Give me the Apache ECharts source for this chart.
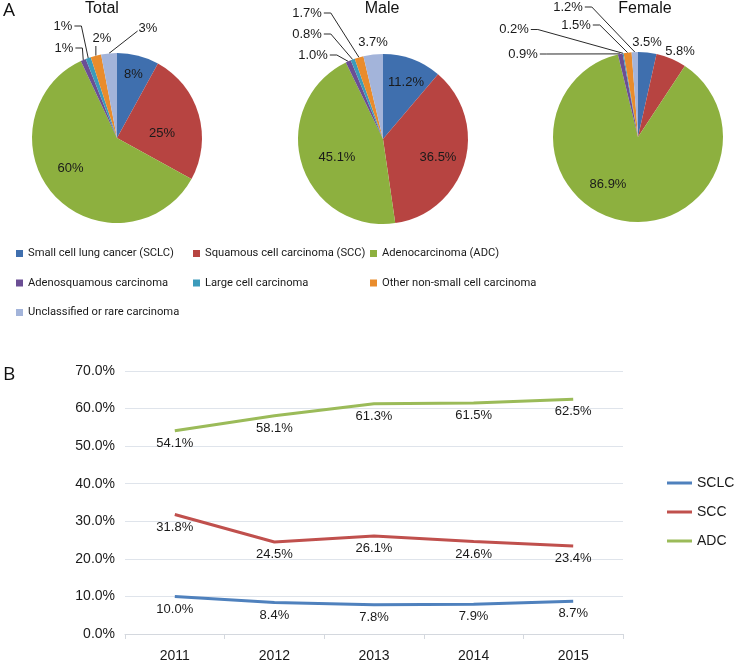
<!DOCTYPE html>
<html>
<head>
<meta charset="utf-8">
<script src="https://cdn.jsdelivr.net/npm/echarts@6/dist/echarts.min.js"></script>
<style>
html,body{margin:0;padding:0;background:#fff;}
#chart{width:748px;height:664px;}
</style>
</head>
<body>
<div id="chart"></div>
<script>
// ---------- DATA ----------
var pieCategories = [
  'Small cell lung cancer (SCLC)',
  'Squamous cell carcinoma (SCC)',
  'Adenocarcinoma (ADC)',
  'Adenosquamous carcinoma',
  'Large cell carcinoma',
  'Other non-small cell carcinoma',
  'Unclassified or rare carcinoma'
];
var pieTitles = ['Total', 'Male', 'Female'];
var totalValues  = [8, 25, 60, 1, 1, 2, 3];
var maleValues   = [11.2, 36.5, 45.1, 1.0, 0.8, 1.7, 3.7];
var femaleValues = [3.5, 5.8, 86.9, 0.9, 0.2, 1.5, 1.2];
var totalLabels  = ['8%', '25%', '60%', '1%', '1%', '2%', '3%'];
var maleLabels   = ['11.2%', '36.5%', '45.1%', '1.0%', '0.8%', '1.7%', '3.7%'];
var femaleLabels = ['3.5%', '5.8%', '86.9%', '0.9%', '0.2%', '1.5%', '1.2%'];

var years = ['2011', '2012', '2013', '2014', '2015'];
var lineNames = ['SCLC', 'SCC', 'ADC'];
var sclcTrend = [10.0, 8.4, 7.8, 7.9, 8.7];
var sccTrend  = [31.8, 24.5, 26.1, 24.6, 23.4];
var adcTrend  = [54.1, 58.1, 61.3, 61.5, 62.5];
var yTicks = [0, 10, 20, 30, 40, 50, 60, 70];

// ---------- STYLE / LAYOUT ----------
var pieColors = ['#3F6FAE', '#B74441', '#8DB03F', '#6B4E94', '#3C9BBB', '#E98C2C', '#A3B4DA'];
var lineColors = ['#4F81BD', '#C0504D', '#9BBB59'];
var FONT = '"Liberation Sans", Arial, sans-serif';
var LEGFONT = 'Roboto, "Liberation Sans", Arial, sans-serif';
var R = 85;
var pieCenters = [[117, 138], [383, 139], [638, 137]];
// label placement: label centre offset from pie centre, and leader-line style
var labelSpecs = [
  [ {o:[16.5,-64],s:'in'}, {o:[45,-5],s:'in'}, {o:[-46.5,30],s:'in'},
    {o:[-53,-90],s:'L'}, {o:[-54,-112],s:'L'}, {o:[-15,-100],s:'B'}, {o:[31,-110],s:'R'} ],
  [ {o:[23,-57],s:'in'}, {o:[55,18],s:'in'}, {o:[-46,18],s:'in'},
    {o:[-70,-84],s:'L'}, {o:[-76,-105],s:'L'}, {o:[-76,-126],s:'L'}, {o:[-10,-97],s:'none'} ],
  [ {o:[9,-94.5],s:'none'}, {o:[42,-86],s:'none'}, {o:[-30,47.5],s:'in'},
    {o:[-115,-83],s:'L'}, {o:[-124,-107.5],s:'L'}, {o:[-62,-112],s:'L'}, {o:[-70,-130],s:'L'} ]
];
var pieValueSets = [totalValues, maleValues, femaleValues];
var pieLabelSets = [totalLabels, maleLabels, femaleLabels];

function anchorOf(p, i) {
  var vals = pieValueSets[p];
  var sum = 0, before = 0;
  for (var k = 0; k < vals.length; k++) { sum += vals[k]; if (k < i) before += vals[k]; }
  var mid = (before + vals[i] / 2) / sum * Math.PI * 2;
  var c = pieCenters[p];
  return [c[0] + R * Math.sin(mid), c[1] - R * Math.cos(mid)];
}

function makePie(p) {
  var vals = pieValueSets[p], labs = pieLabelSets[p];
  var data = vals.map(function (v, i) {
    var spec = labelSpecs[p][i];
    var d = { name: pieCategories[i], value: v, itemStyle: { color: pieColors[i] } };
    if (spec.s === 'in' || spec.s === 'none') d.labelLine = { show: false };
    return d;
  });
  return {
    type: 'pie',
    center: pieCenters[p],
    radius: [0, R],
    startAngle: 90,
    clockwise: true,
    avoidLabelOverlap: false,
    silent: true,
    animation: false,
    data: data,
    itemStyle: { borderWidth: 0 },
    label: {
      show: true,
      position: 'outside',
      formatter: function (prm) { return labs[prm.dataIndex]; },
      fontFamily: FONT,
      fontSize: 13,
      color: '#1a1a1a'
    },
    labelLine: { show: true, length: 5, length2: 5, lineStyle: { color: '#2a2a2a', width: 1 } },
    labelLayout: function (prm) {
      var i = prm.dataIndex;
      var spec = labelSpecs[p][i];
      var c = pieCenters[p];
      var lx = c[0] + spec.o[0], ly = c[1] + spec.o[1];
      var res = { x: lx, y: ly, align: 'center', verticalAlign: 'middle' };
      var w = prm.labelRect ? prm.labelRect.width : 24;
      var a = anchorOf(p, i);
      if (spec.s === 'L') {
        var end = [lx + w / 2 + 2, ly];
        var elbow = [end[0] + 7, ly];
        res.labelLinePoints = [a, elbow, end];
      } else if (spec.s === 'R') {
        var e2 = [lx - w / 2 - 1, ly + 3];
        res.labelLinePoints = [a, e2, e2];
      } else if (spec.s === 'B') {
        var e3 = [a[0], ly + 8];
        res.labelLinePoints = [a, e3, e3];
      }
      return res;
    }
  };
}

var chart = echarts.init(document.getElementById('chart'), null, { renderer: 'canvas' });

var legendText = { fontFamily: LEGFONT, fontSize: 11.2, color: '#1a1a1a' };
function pieLegend(names, left) {
  return {
    data: names, orient: 'vertical', left: left, top: 248,
    icon: 'rect', itemWidth: 7, itemHeight: 7, itemGap: 18.5,
    selectedMode: false, textStyle: legendText, padding: 0
  };
}

var option = {
  animation: false,
  backgroundColor: '#ffffff',
  graphic: [
    { type: 'text', x: 3, y: 11, style: { text: 'A', font: '19px "Open Sans", sans-serif', fill: '#111', textVerticalAlign: 'middle' } },
    { type: 'text', x: 3, y: 375, style: { text: 'B', font: '19px "Open Sans", sans-serif', fill: '#111', textVerticalAlign: 'middle' } },
    { type: 'text', x: 102, y: 9, style: { text: pieTitles[0], font: '16px ' + FONT, fill: '#111', textAlign: 'center', textVerticalAlign: 'middle' } },
    { type: 'text', x: 382, y: 9, style: { text: pieTitles[1], font: '16px ' + FONT, fill: '#111', textAlign: 'center', textVerticalAlign: 'middle' } },
    { type: 'text', x: 645, y: 9, style: { text: pieTitles[2], font: '16px ' + FONT, fill: '#111', textAlign: 'center', textVerticalAlign: 'middle' } }
  ],
  legend: [
    pieLegend([pieCategories[0], pieCategories[3], pieCategories[6]], 16),
    pieLegend([pieCategories[1], pieCategories[4]], 193),
    pieLegend([pieCategories[2], pieCategories[5]], 370),
    {
      data: lineNames, orient: 'vertical', left: 667, top: 476,
      icon: 'rect', itemWidth: 25, itemHeight: 3, itemGap: 15,
      selectedMode: false, padding: 0,
      textStyle: { fontFamily: FONT, fontSize: 14, color: '#1a1a1a' }
    }
  ],
  grid: { left: 125, right: 125, top: 371, bottom: 30 },
  xAxis: {
    type: 'category', data: years, boundaryGap: true,
    axisLine: { lineStyle: { color: '#d4d8de' } },
    axisTick: { show: true, length: 5, lineStyle: { color: '#d4d8de' } },
    axisLabel: { color: '#1a1a1a', fontFamily: FONT, fontSize: 14, margin: 15 }
  },
  yAxis: {
    type: 'value', min: yTicks[0], max: yTicks[yTicks.length - 1], interval: 10,
    axisLine: { show: false }, axisTick: { show: false },
    splitLine: { lineStyle: { color: '#dfe4eb', width: 1 } },
    axisLabel: { color: '#1a1a1a', fontFamily: FONT, fontSize: 14, margin: 10,
      formatter: function (v) { return v.toFixed(1) + '%'; } }
  },
  series: [
    makePie(0), makePie(1), makePie(2)
  ].concat([sclcTrend, sccTrend, adcTrend].map(function (arr, k) {
    return {
      type: 'line', name: lineNames[k], data: arr,
      symbol: 'circle', symbolSize: 0, showSymbol: true, smooth: false, silent: true,
      lineStyle: { color: lineColors[k], width: 3 },
      itemStyle: { color: lineColors[k] },
      label: { show: true, position: 'bottom', distance: 6,
        fontFamily: FONT, fontSize: 13, color: '#1a1a1a',
        formatter: function (prm) { return prm.value.toFixed(1) + '%'; } }
    };
  }))
};
chart.setOption(option);
</script>
</body>
</html>
